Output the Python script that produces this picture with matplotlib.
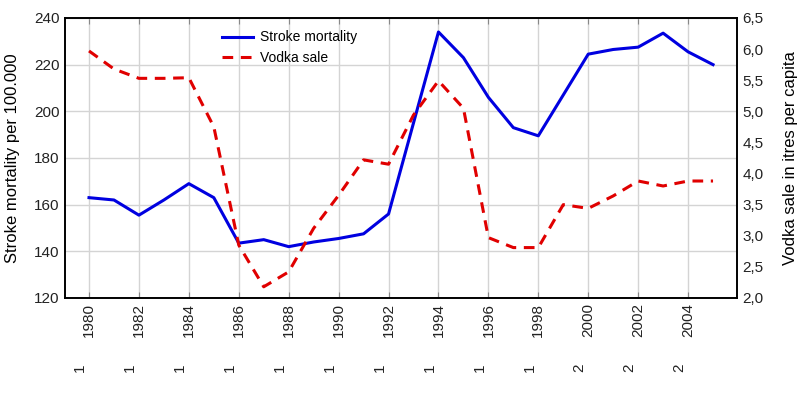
import matplotlib
matplotlib.use("Agg")
import matplotlib.pyplot as plt
from matplotlib import font_manager
from matplotlib.ticker import FuncFormatter

# data
years = list(range(1980, 2006))
stroke_mortality = [163, 162, 155.5, 162, 169, 163, 143.5, 145, 142, 144, 145.5, 147.5, 156,
                    195, 234, 223, 206, 193, 189.5, 207, 224.5, 226.5, 227.5, 233.5, 225.5, 220]
vodka_sale = [5.97, 5.68, 5.53, 5.53, 5.54, 4.75, 2.85, 2.18, 2.42, 3.12, 3.65, 4.22, 4.15,
              4.94, 5.49, 5.05, 2.97, 2.81, 2.81, 3.5, 3.44, 3.64, 3.88, 3.80, 3.88, 3.88]
x_ticks = list(range(1980, 2006, 2))
second_row = ["1"] * 10 + ["2"] * 3

installed = {f.name for f in font_manager.fontManager.ttflist}
plt.rcParams["font.family"] = ["Liberation Sans", "DejaVu Sans"]
narrow = "Liberation Sans Narrow" if "Liberation Sans Narrow" in installed else "Liberation Sans"

fig = plt.figure(figsize=(7.99, 3.97), dpi=100)
ax = fig.add_axes([0.0814, 0.2494, 0.841, 0.7053])
ax2 = ax.twinx()

ax.plot(years, stroke_mortality, color="#0000e0", lw=2.2, label="Stroke mortality", zorder=3)
ax2.plot(years, vodka_sale, color="#e00000", lw=2.2, ls=(0, (3.5, 2.5)), label="Vodka sale")

ax.set_xlim(1979.04, 2005.96)
ax.set_ylim(120, 240)
ax.set_yticks(range(120, 241, 20))
ax2.set_ylim(2.0, 6.5)
ax2.set_yticks([2.0 + 0.5 * i for i in range(10)])
ax2.yaxis.set_major_formatter(FuncFormatter(lambda v, p: f"{v:.1f}".replace(".", ",")))
ax.set_xticks(x_ticks)
ax.set_xticklabels([str(y) for y in x_ticks], rotation=90)

ax.grid(True, color="#d4d4d4", lw=1)
ax.set_axisbelow(True)
ax.tick_params(axis="x", direction="in", length=4, top=True, labelsize=11, color="#888888",
               labelcolor="#222222")
ax.tick_params(axis="y", length=0, labelsize=11, pad=4, labelcolor="#222222")
ax2.tick_params(axis="y", length=0, labelsize=11, pad=4, labelcolor="#222222")
for a in (ax, ax2):
    for s in a.spines.values():
        s.set_color("black")
        s.set_linewidth(1.2)

ax.set_ylabel("Stroke mortality per 100.000", fontsize=12, labelpad=10)
ax2.set_ylabel("Vodka sale in itres per capita", fontsize=12, labelpad=14)

# truncated second row of labels
for xv, lab in zip(x_ticks, second_row):
    ax.text(xv - 0.35, -0.25, lab, transform=ax.get_xaxis_transform(), rotation=90,
            ha="center", va="center", fontsize=11, color="#222222")

h1, l1 = ax.get_legend_handles_labels()
h2, l2 = ax2.get_legend_handles_labels()
ax.legend(h1 + h2, l1 + l2, loc="upper left", bbox_to_anchor=(0.215, 1.0), frameon=False,
          handlelength=2.2, handletextpad=0.5, labelspacing=0.45, prop={"family": narrow, "size": 10})

fig.savefig("out.png", dpi=100)
